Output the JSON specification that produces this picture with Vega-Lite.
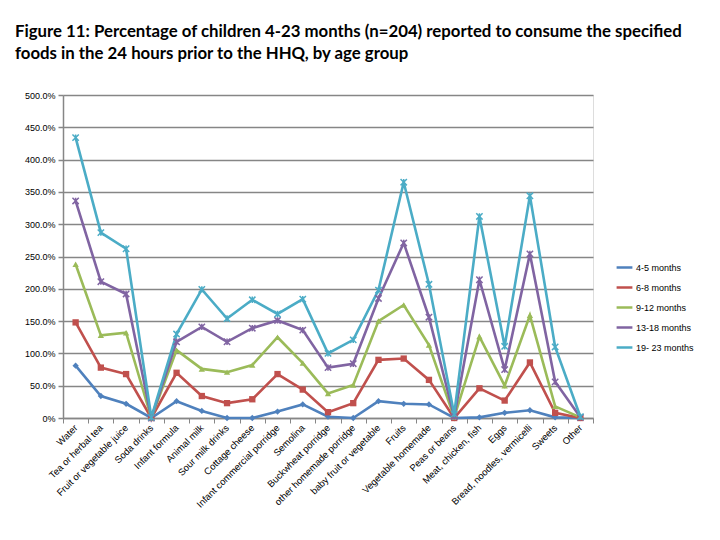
{
  "$schema": "https://vega.github.io/schema/vega-lite/v6.json",
  "autosize": "none",
  "width": 530,
  "height": 323,
  "padding": {"left": 63, "top": 95, "right": 127, "bottom": 122},
  "background": "white",
  "title": {
    "text": ["Figure 11: Percentage of children 4-23 months (n=204) reported to consume the specified", "foods in the 24 hours prior to the HHQ, by age group"],
    "anchor": "start",
    "frame": "group",
    "dx": -48,
    "offset": 28,
    "font": "Lato",
    "fontSize": 16.8,
    "fontWeight": "bold",
    "color": "#000000",
    "lineHeight": 22
  },
  "data": {
    "values": [
      {"food": "Water", "group": "4-5 months", "g": 1, "value": 81},
      {"food": "Water", "group": "6-8 months", "g": 2, "value": 67},
      {"food": "Water", "group": "9-12 months", "g": 3, "value": 90},
      {"food": "Water", "group": "13-18 months", "g": 4, "value": 98},
      {"food": "Water", "group": "19- 23 months", "g": 5, "value": 98},
      {"food": "Tea or herbal tea", "group": "4-5 months", "g": 1, "value": 34},
      {"food": "Tea or herbal tea", "group": "6-8 months", "g": 2, "value": 44},
      {"food": "Tea or herbal tea", "group": "9-12 months", "g": 3, "value": 50},
      {"food": "Tea or herbal tea", "group": "13-18 months", "g": 4, "value": 83},
      {"food": "Tea or herbal tea", "group": "19- 23 months", "g": 5, "value": 76},
      {"food": "Fruit or vegetable juice", "group": "4-5 months", "g": 1, "value": 22},
      {"food": "Fruit or vegetable juice", "group": "6-8 months", "g": 2, "value": 46},
      {"food": "Fruit or vegetable juice", "group": "9-12 months", "g": 3, "value": 64},
      {"food": "Fruit or vegetable juice", "group": "13-18 months", "g": 4, "value": 60},
      {"food": "Fruit or vegetable juice", "group": "19- 23 months", "g": 5, "value": 70},
      {"food": "Soda drinks", "group": "4-5 months", "g": 1, "value": 0},
      {"food": "Soda drinks", "group": "6-8 months", "g": 2, "value": 0},
      {"food": "Soda drinks", "group": "9-12 months", "g": 3, "value": 0},
      {"food": "Soda drinks", "group": "13-18 months", "g": 4, "value": 0},
      {"food": "Soda drinks", "group": "19- 23 months", "g": 5, "value": 1},
      {"food": "Infant formula", "group": "4-5 months", "g": 1, "value": 26},
      {"food": "Infant formula", "group": "6-8 months", "g": 2, "value": 44},
      {"food": "Infant formula", "group": "9-12 months", "g": 3, "value": 35},
      {"food": "Infant formula", "group": "13-18 months", "g": 4, "value": 13},
      {"food": "Infant formula", "group": "19- 23 months", "g": 5, "value": 12},
      {"food": "Animal milk", "group": "4-5 months", "g": 1, "value": 11},
      {"food": "Animal milk", "group": "6-8 months", "g": 2, "value": 23},
      {"food": "Animal milk", "group": "9-12 months", "g": 3, "value": 42},
      {"food": "Animal milk", "group": "13-18 months", "g": 4, "value": 65},
      {"food": "Animal milk", "group": "19- 23 months", "g": 5, "value": 58},
      {"food": "Sour milk drinks", "group": "4-5 months", "g": 1, "value": 0},
      {"food": "Sour milk drinks", "group": "6-8 months", "g": 2, "value": 23},
      {"food": "Sour milk drinks", "group": "9-12 months", "g": 3, "value": 48},
      {"food": "Sour milk drinks", "group": "13-18 months", "g": 4, "value": 47},
      {"food": "Sour milk drinks", "group": "19- 23 months", "g": 5, "value": 36},
      {"food": "Cottage cheese", "group": "4-5 months", "g": 1, "value": 0},
      {"food": "Cottage cheese", "group": "6-8 months", "g": 2, "value": 29},
      {"food": "Cottage cheese", "group": "9-12 months", "g": 3, "value": 53},
      {"food": "Cottage cheese", "group": "13-18 months", "g": 4, "value": 57},
      {"food": "Cottage cheese", "group": "19- 23 months", "g": 5, "value": 44},
      {"food": "Infant commercial porridge", "group": "4-5 months", "g": 1, "value": 10},
      {"food": "Infant commercial porridge", "group": "6-8 months", "g": 2, "value": 58},
      {"food": "Infant commercial porridge", "group": "9-12 months", "g": 3, "value": 57},
      {"food": "Infant commercial porridge", "group": "13-18 months", "g": 4, "value": 26},
      {"food": "Infant commercial porridge", "group": "19- 23 months", "g": 5, "value": 10},
      {"food": "Semolina", "group": "4-5 months", "g": 1, "value": 21},
      {"food": "Semolina", "group": "6-8 months", "g": 2, "value": 23},
      {"food": "Semolina", "group": "9-12 months", "g": 3, "value": 41},
      {"food": "Semolina", "group": "13-18 months", "g": 4, "value": 51},
      {"food": "Semolina", "group": "19- 23 months", "g": 5, "value": 48},
      {"food": "Buckwheat porridge", "group": "4-5 months", "g": 1, "value": 2},
      {"food": "Buckwheat porridge", "group": "6-8 months", "g": 2, "value": 7},
      {"food": "Buckwheat porridge", "group": "9-12 months", "g": 3, "value": 29},
      {"food": "Buckwheat porridge", "group": "13-18 months", "g": 4, "value": 40},
      {"food": "Buckwheat porridge", "group": "19- 23 months", "g": 5, "value": 22},
      {"food": "other homemade porridge", "group": "4-5 months", "g": 1, "value": 0},
      {"food": "other homemade porridge", "group": "6-8 months", "g": 2, "value": 23},
      {"food": "other homemade porridge", "group": "9-12 months", "g": 3, "value": 28},
      {"food": "other homemade porridge", "group": "13-18 months", "g": 4, "value": 33},
      {"food": "other homemade porridge", "group": "19- 23 months", "g": 5, "value": 37},
      {"food": "baby fruit or vegetable", "group": "4-5 months", "g": 1, "value": 26},
      {"food": "baby fruit or vegetable", "group": "6-8 months", "g": 2, "value": 64},
      {"food": "baby fruit or vegetable", "group": "9-12 months", "g": 3, "value": 60},
      {"food": "baby fruit or vegetable", "group": "13-18 months", "g": 4, "value": 35},
      {"food": "baby fruit or vegetable", "group": "19- 23 months", "g": 5, "value": 13},
      {"food": "Fruits", "group": "4-5 months", "g": 1, "value": 22},
      {"food": "Fruits", "group": "6-8 months", "g": 2, "value": 70},
      {"food": "Fruits", "group": "9-12 months", "g": 3, "value": 83},
      {"food": "Fruits", "group": "13-18 months", "g": 4, "value": 96},
      {"food": "Fruits", "group": "19- 23 months", "g": 5, "value": 94},
      {"food": "Vegetable homemade", "group": "4-5 months", "g": 1, "value": 21},
      {"food": "Vegetable homemade", "group": "6-8 months", "g": 2, "value": 38},
      {"food": "Vegetable homemade", "group": "9-12 months", "g": 3, "value": 54},
      {"food": "Vegetable homemade", "group": "13-18 months", "g": 4, "value": 43},
      {"food": "Vegetable homemade", "group": "19- 23 months", "g": 5, "value": 51},
      {"food": "Peas or beans", "group": "4-5 months", "g": 1, "value": 0},
      {"food": "Peas or beans", "group": "6-8 months", "g": 2, "value": 0},
      {"food": "Peas or beans", "group": "9-12 months", "g": 3, "value": 1},
      {"food": "Peas or beans", "group": "13-18 months", "g": 4, "value": 1},
      {"food": "Peas or beans", "group": "19- 23 months", "g": 5, "value": 4},
      {"food": "Meat, chicken, fish", "group": "4-5 months", "g": 1, "value": 1},
      {"food": "Meat, chicken, fish", "group": "6-8 months", "g": 2, "value": 45},
      {"food": "Meat, chicken, fish", "group": "9-12 months", "g": 3, "value": 80},
      {"food": "Meat, chicken, fish", "group": "13-18 months", "g": 4, "value": 88},
      {"food": "Meat, chicken, fish", "group": "19- 23 months", "g": 5, "value": 98},
      {"food": "Eggs", "group": "4-5 months", "g": 1, "value": 8},
      {"food": "Eggs", "group": "6-8 months", "g": 2, "value": 19},
      {"food": "Eggs", "group": "9-12 months", "g": 3, "value": 23},
      {"food": "Eggs", "group": "13-18 months", "g": 4, "value": 25},
      {"food": "Eggs", "group": "19- 23 months", "g": 5, "value": 36},
      {"food": "Bread, noodles, vermicelli", "group": "4-5 months", "g": 1, "value": 12},
      {"food": "Bread, noodles, vermicelli", "group": "6-8 months", "g": 2, "value": 74},
      {"food": "Bread, noodles, vermicelli", "group": "9-12 months", "g": 3, "value": 73},
      {"food": "Bread, noodles, vermicelli", "group": "13-18 months", "g": 4, "value": 95},
      {"food": "Bread, noodles, vermicelli", "group": "19- 23 months", "g": 5, "value": 90},
      {"food": "Sweets", "group": "4-5 months", "g": 1, "value": 1},
      {"food": "Sweets", "group": "6-8 months", "g": 2, "value": 7},
      {"food": "Sweets", "group": "9-12 months", "g": 3, "value": 10},
      {"food": "Sweets", "group": "13-18 months", "g": 4, "value": 38},
      {"food": "Sweets", "group": "19- 23 months", "g": 5, "value": 54},
      {"food": "Other", "group": "4-5 months", "g": 1, "value": 0},
      {"food": "Other", "group": "6-8 months", "g": 2, "value": 0},
      {"food": "Other", "group": "9-12 months", "g": 3, "value": 1},
      {"food": "Other", "group": "13-18 months", "g": 4, "value": 0},
      {"food": "Other", "group": "19- 23 months", "g": 5, "value": 1}
    ]
  },
  "transform": [
    {"stack": "value", "groupby": ["food"], "sort": [{"field": "g", "order": "ascending"}], "as": ["v0", "v1"]}
  ],
  "encoding": {
    "x": {
      "field": "food",
      "type": "nominal",
      "sort": ["Water", "Tea or herbal tea", "Fruit or vegetable juice", "Soda drinks", "Infant formula", "Animal milk", "Sour milk drinks", "Cottage cheese", "Infant commercial porridge", "Semolina", "Buckwheat porridge", "other homemade porridge", "baby fruit or vegetable", "Fruits", "Vegetable homemade", "Peas or beans", "Meat, chicken, fish", "Eggs", "Bread, noodles, vermicelli", "Sweets", "Other"],
      "scale": {"type": "band", "paddingInner": 0, "paddingOuter": 0},
      "axis": {
        "title": null,
        "labelAngle": -45,
        "labelAlign": "right",
        "labelBaseline": "middle",
        "labelFont": "Liberation Sans",
        "labelFontSize": 9.5,
        "labelColor": "#000000",
        "labelPadding": 3,
        "labelOverlap": false,
        "labelLimit": 300,
        "tickBand": "extent",
        "tickColor": "#868686",
        "tickSize": 5,
        "domainColor": "#868686",
        "domainWidth": 1.5,
        "grid": false
      }
    },
    "y": {
      "field": "v1",
      "type": "quantitative",
      "scale": {"domain": [0, 500], "nice": false},
      "axis": {
        "title": null,
        "values": [0, 50, 100, 150, 200, 250, 300, 350, 400, 450, 500],
        "labelExpr": "datum.value == 0 ? '0%' : format(datum.value, '.1f') + '%'",
        "labelFont": "Liberation Sans",
        "labelFontSize": 9,
        "labelColor": "#000000",
        "labelPadding": 3,
        "grid": true,
        "gridColor": "#868686",
        "gridWidth": 1.5,
        "tickColor": "#868686",
        "tickSize": 5,
        "tickWidth": 1.5,
        "domainColor": "#868686",
        "domainWidth": 1.5
      }
    },
    "color": {
      "field": "group",
      "type": "nominal",
      "scale": {
        "domain": ["4-5 months", "6-8 months", "9-12 months", "13-18 months", "19- 23 months"],
        "range": ["#4F81BD", "#C0504D", "#9BBB59", "#8064A2", "#4BACC6"]
      },
      "legend": {
        "title": null,
        "orient": "none",
        "legendX": 552,
        "legendY": 163,
        "symbolType": "stroke",
        "symbolStrokeWidth": 2.5,
        "symbolSize": 250,
        "labelFont": "Liberation Sans",
        "labelFontSize": 9,
        "labelColor": "#000000",
        "rowPadding": 5,
        "labelOffset": 2
      }
    }
  },
  "layer": [
    {
      "mark": {"type": "line", "strokeWidth": 2.6, "interpolate": "linear"},
      "encoding": {"detail": {"field": "group"}}
    },
    {
      "transform": [{"filter": "datum.g <= 3"}],
      "mark": {"type": "point", "filled": true, "opacity": 1, "size": 40},
      "encoding": {
        "shape": {
          "field": "group",
          "type": "nominal",
          "scale": {"domain": ["4-5 months", "6-8 months", "9-12 months"], "range": ["diamond", "square", "triangle-up"]},
          "legend": null
        }
      }
    },
    {
      "transform": [{"filter": "datum.g >= 4"}],
      "mark": {"type": "point", "filled": false, "opacity": 1, "size": 40, "strokeWidth": 1.5, "shape": "M-1,-1L1,1M1,-1L-1,1M0,-1L0,1"}
    }
  ]
}
